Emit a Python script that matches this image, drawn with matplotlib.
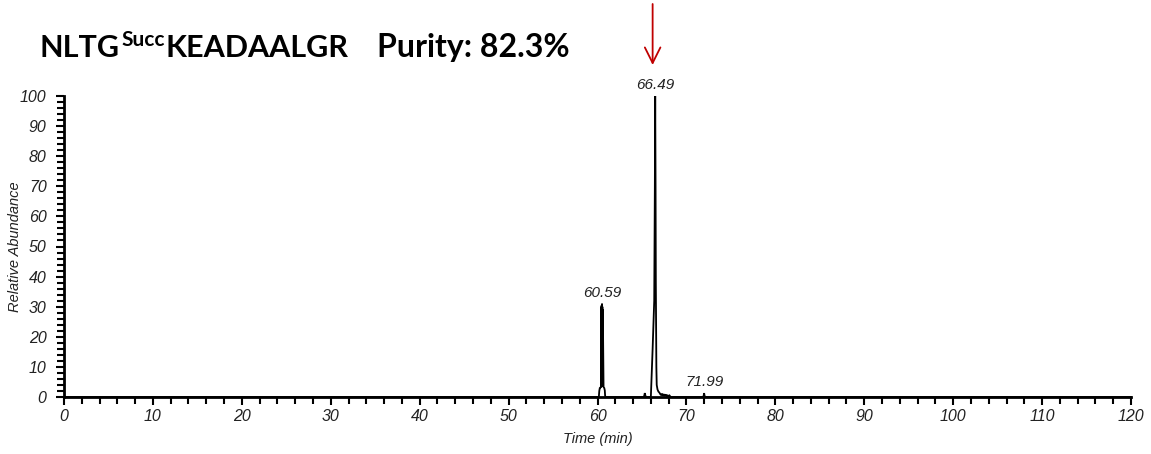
import matplotlib
matplotlib.use("Agg")
import matplotlib.pyplot as plt
from matplotlib.ticker import MultipleLocator

# ---- data ----
time = [0.0, 60.15, 60.20, 60.26, 60.34, 60.40, 60.43, 60.45, 60.47, 60.49, 60.51,
        60.53, 60.55, 60.57, 60.60, 60.68, 60.76, 60.82, 60.86, 60.95,
        65.15, 65.25, 65.32, 65.40, 65.50,
        66.00, 66.20, 66.38, 66.45, 66.49, 66.53, 66.56, 66.62, 66.66, 66.75,
        66.85, 66.95, 67.05, 67.15, 67.25, 67.35, 67.42, 67.50, 67.58, 67.66,
        67.74, 67.82, 67.90, 68.00, 68.10, 68.20, 68.30,
        71.85, 71.94, 71.99, 72.04, 72.12, 120.0]
intensity = [0.0, 0.0, 2.0, 3.0, 3.2, 3.1, 30.0, 3.5, 30.5, 4.0, 31.0,
             3.8, 30.0, 3.5, 29.0, 3.3, 3.0, 2.2, 0.3, 0.0,
             0.0, 0.3, 1.3, 0.3, 0.0,
             0.0, 16.0, 32.0, 70.0, 100.0, 70.0, 38.0, 10.0, 4.0, 2.5,
             1.8, 1.5, 1.0, 0.6, 1.1, 0.4, 1.0, 0.3, 0.9, 0.3,
             0.8, 0.2, 0.6, 0.2, 0.5, 0.1, 0.0,
             0.0, 0.4, 1.3, 0.4, 0.0, 0.0]
peak_labels = ["60.59", "66.49", "71.99"]
peak_x = [60.59, 66.49, 71.99]
peak_y = [31.0, 100.0, 1.3]

x_ticks = list(range(0, 121, 10))
y_ticks = list(range(0, 101, 10))

W, H = 1151, 454
fig = plt.figure(figsize=(W / 100, H / 100), dpi=100)
ax = fig.add_axes([64 / W, 1 - 397 / H, (1131 - 64) / W, (397 - 96) / H])

ax.plot(time, intensity, color="black", lw=1.3, clip_on=False, solid_joinstyle="miter")

ax.set_xlim(0, 120)
ax.set_ylim(0, 100)
for s in ("top", "right"):
    ax.spines[s].set_visible(False)
for s in ("left", "bottom"):
    ax.spines[s].set_linewidth(2.0)

ax.xaxis.set_major_locator(MultipleLocator(10))
ax.xaxis.set_minor_locator(MultipleLocator(2))
ax.yaxis.set_major_locator(MultipleLocator(10))
ax.yaxis.set_minor_locator(MultipleLocator(2))
ax.tick_params(axis="both", which="major", length=5.5, width=1.5, direction="out")
ax.tick_params(axis="both", which="minor", length=5.0, width=1.5, direction="out")
ax.tick_params(axis="x", which="major", pad=3)
ax.tick_params(axis="y", which="major", pad=7)

tick_font = dict(family="Liberation Sans", style="italic", size=11.5, color="#222222")
ax.set_xticks(x_ticks)
ax.set_xticklabels([str(v) for v in x_ticks], **tick_font)
ax.set_yticks(y_ticks)
ax.set_yticklabels([str(v) for v in y_ticks], **tick_font)

lab_font = dict(family="Liberation Sans", style="italic", size=10.5, color="#222222")
ax.set_xlabel("Time (min)", labelpad=6, **lab_font)
ax.set_ylabel("Relative Abundance", **lab_font)
ax.yaxis.set_label_coords((22 - 64) / (1131 - 64), 0.5)

for lab, px, py in zip(peak_labels, peak_x, peak_y):
    ax.annotate(lab, xy=(px, py), xytext=(0, 3), textcoords="offset points",
                ha="center", va="bottom", family="Liberation Sans", style="italic",
                size=11, color="#222222", annotation_clip=False)

# red arrow marking the target peak
ax.annotate("", xy=(66.2, 1 - 65 / H), xytext=(66.2, 1 - 4 / H),
            xycoords=("data", "figure fraction"), textcoords=("data", "figure fraction"),
            arrowprops=dict(arrowstyle="->", color="#c00000", lw=1.3,
                            mutation_scale=28, shrinkA=0, shrinkB=0))

# title with superscript, chained by measured extents
title_font = dict(family="Lato", weight="bold", color="black")
fig.canvas.draw()
r = fig.canvas.get_renderer()
base_y = 1 - 57 / H
t1 = fig.text(40 / W, base_y, "NLTG", size=22, va="baseline", **title_font)
x1 = t1.get_window_extent(r).x1
t2 = fig.text((x1 + 1) / W, base_y + 11 / H, "Succ", size=15, va="baseline", **title_font)
x2 = t2.get_window_extent(r).x1
t3 = fig.text((x2 + 1) / W, base_y, "KEADAALGR", size=22, va="baseline", **title_font)
fig.text(377 / W, base_y, "Purity: 82.3%", size=23, va="baseline", **title_font)

fig.savefig("out.png", dpi=100)
